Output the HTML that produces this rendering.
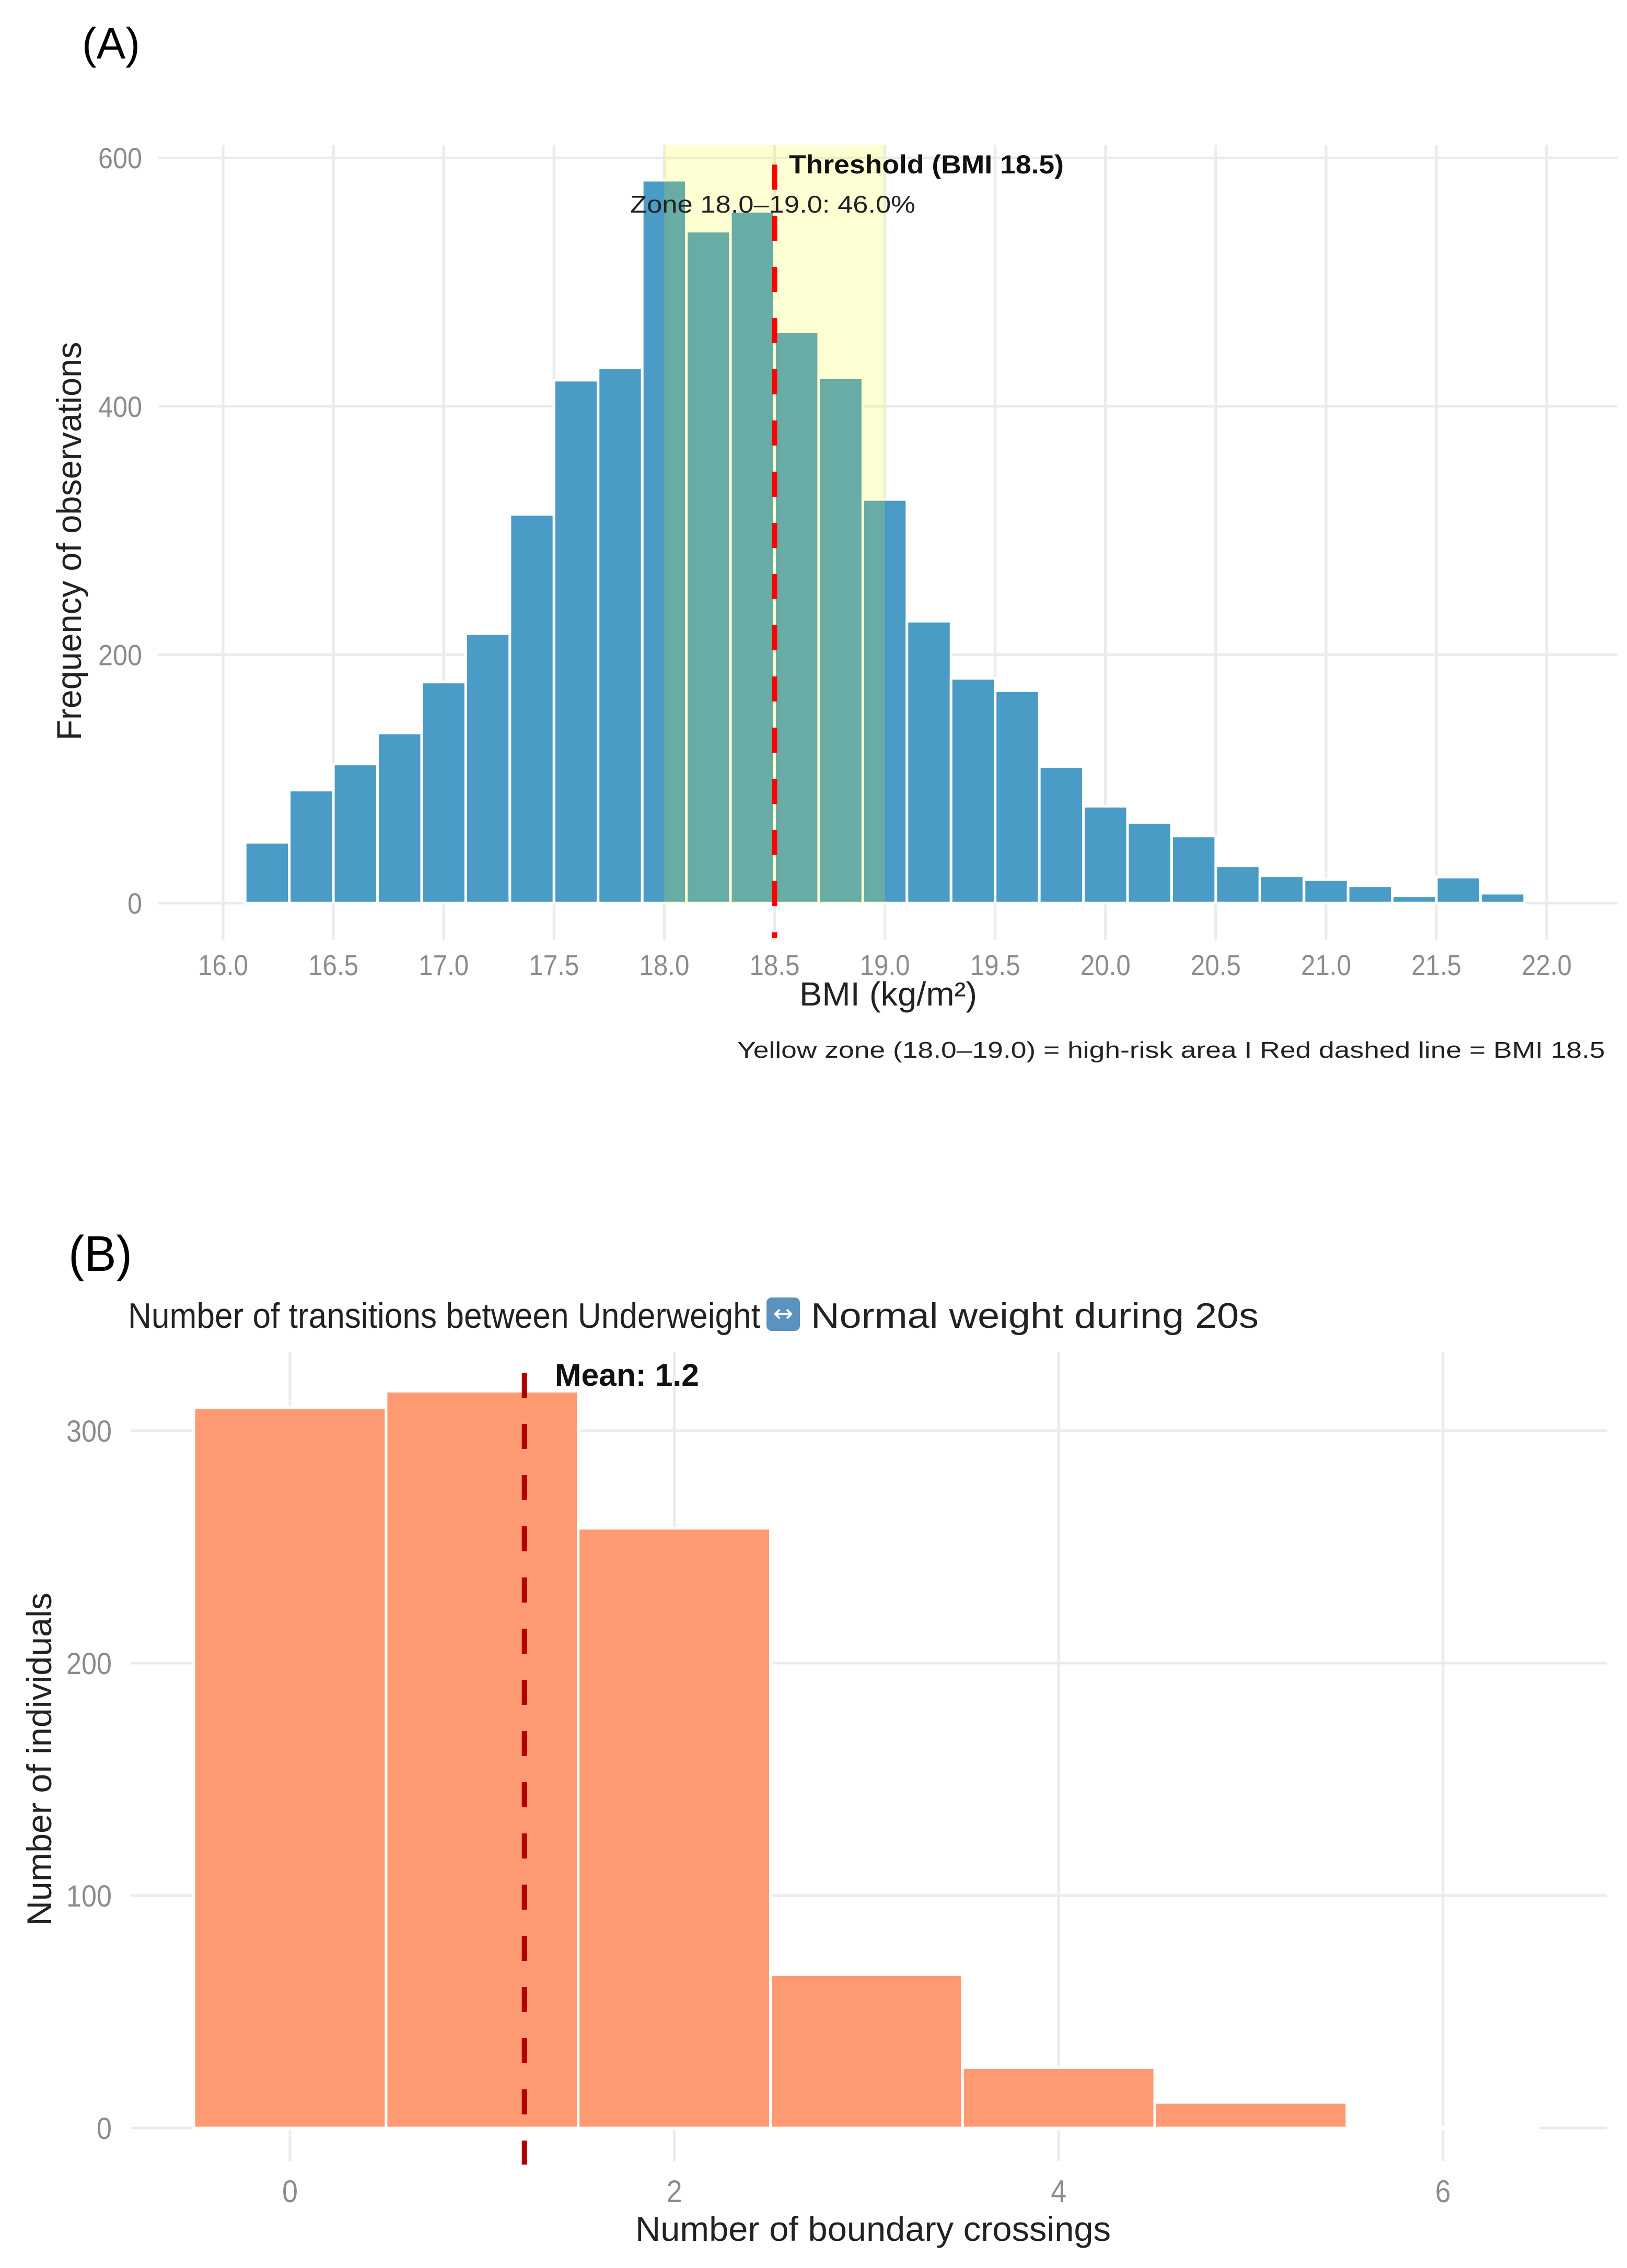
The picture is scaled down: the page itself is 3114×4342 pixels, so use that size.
<!DOCTYPE html>
<html><head><meta charset="utf-8"><style>
html,body{margin:0;padding:0;background:#fff;}
svg{display:block;font-family:"Liberation Sans",Arial,sans-serif;}
</style></head><body>
<svg id="fig" width="3114" height="4342" viewBox="0 0 3114 4342" xmlns="http://www.w3.org/2000/svg">
<rect width="3114" height="4342" fill="#ffffff"/>
<g id="panelA"></g>
<g id="panelB"></g>
</svg>
<script>
// ---- Panel A data ----
const bmiBinStarts = [16.1,16.3,16.5,16.7,16.9,17.1,17.3,17.5,17.7,17.9,18.1,18.3,18.5,18.7,18.9,19.1,19.3,19.5,19.7,19.9,20.1,20.3,20.5,20.7,20.9,21.1,21.3,21.5,21.7];
const bmiCounts = [49,91,112,137,178,217,313,421,431,582,541,557,460,423,325,227,181,171,110,78,65,54,30,22,19,14,6,21,8];
const bmiBinWidth = 0.2;
const bmiXTicks = [16.0,16.5,17.0,17.5,18.0,18.5,19.0,19.5,20.0,20.5,21.0,21.5,22.0];
const bmiYTicks = [0,200,400,600];
const zoneRange = [18.0,19.0];
const thresholdValue = 18.5;
// ---- Panel B data ----
const crossCategories = [0,1,2,3,4,5,6];
const crossCounts = [310,317,258,66,26,11,0];
const crossXTicks = [0,2,4,6];
const crossYTicks = [0,100,200,300];
const crossMean = 1.22;

const NS = "http://www.w3.org/2000/svg";
function mk(parent, tag, attrs, text){
  const e = document.createElementNS(NS, tag);
  for (const k in attrs) e.setAttribute(k, attrs[k]);
  if (text !== undefined) e.textContent = text;
  parent.appendChild(e);
  return e;
}
const gridCol = "#ebebeb", tickCol = "#8c8c8c";

// ===== Panel A =====
(function(){
  const g = document.getElementById('panelA');
  const xA = v => 427 + (v - 16.0) * 422.2;
  const yA = v => 1729 - v * 2.378;
  const left = 303, right = 3096, top = 277, bottom = 1800;
  bmiXTicks.forEach(t => {
    const l = mk(g,'line',{x1:xA(t),x2:xA(t),y1:top,y2:bottom,stroke:gridCol,'stroke-width':5});
    
    
  });
  bmiYTicks.forEach(t => {
    const l = mk(g,'line',{x1:left,x2:right,y1:yA(t),y2:yA(t),stroke:gridCol,'stroke-width':5});
    
    
  });
  bmiBinStarts.forEach((s,i) => {
    const r = mk(g,'rect',{x:xA(s),y:yA(bmiCounts[i]),width:xA(s+bmiBinWidth)-xA(s),height:yA(0)-yA(bmiCounts[i]),fill:'#4b9bc7',stroke:'#ffffff','stroke-width':5});
    
    
  });
  const z = mk(g,'rect',{x:xA(zoneRange[0]),y:top,width:xA(zoneRange[1])-xA(zoneRange[0]),height:yA(0)-top,fill:'#ffff00','fill-opacity':0.17});
  
  
  const th = mk(g,'line',{x1:xA(thresholdValue),x2:xA(thresholdValue),y1:315,y2:bottom-4,stroke:'#ff0000','stroke-width':10,'stroke-dasharray':'48 50'});
  
  
  const tt = mk(g,'text',{x:1510,y:332,'font-size':50,'font-weight':'bold',fill:'#111',textLength:526,lengthAdjust:'spacingAndGlyphs'},'Threshold (BMI 18.5)');
  
  
  const zt = mk(g,'text',{x:1206,y:407,'font-size':46,fill:'#222',textLength:546,lengthAdjust:'spacingAndGlyphs'},'Zone 18.0–19.0: 46.0%');
  
  
  bmiXTicks.forEach(t => {
    const tx = mk(g,'text',{x:xA(t),y:1867,'font-size':56,fill:tickCol,'text-anchor':'middle',textLength:96,lengthAdjust:'spacingAndGlyphs'},t.toFixed(1));
    
    
  });
  bmiYTicks.forEach(t => {
    const s = String(t);
    const tx = mk(g,'text',{x:272,y:yA(t)+20,'font-size':56,fill:tickCol,'text-anchor':'end',textLength:s.length*28,lengthAdjust:'spacingAndGlyphs'},s);
    
    
  });
  const xt = mk(g,'text',{x:1700,y:1925,'font-size':64,fill:'#222','text-anchor':'middle',textLength:340,lengthAdjust:'spacingAndGlyphs'},'BMI (kg/m²)');
  
  
  const yt = mk(g,'text',{x:0,y:0,'font-size':66,fill:'#222','text-anchor':'middle',textLength:763,lengthAdjust:'spacingAndGlyphs',transform:'translate(155,1036) rotate(-90)'},'Frequency of observations');
  
  
  const cap = mk(g,'text',{x:1411,y:2025,'font-size':44,fill:'#222',textLength:1661,lengthAdjust:'spacingAndGlyphs'},'Yellow zone (18.0–19.0) = high-risk area  I  Red dashed line = BMI 18.5');
  
  
  const pl = mk(g,'text',{x:157,y:112,'font-size':84,fill:'#000',textLength:111,lengthAdjust:'spacingAndGlyphs'},'(A)');
  
  
})();

// ===== Panel B =====
(function(){
  const g = document.getElementById('panelB');
  const xB = v => 555 + v * 367.8;
  const yB = v => 4074 - v * 4.45;
  const left = 250, right = 3076, top = 2589, bottom = 4137;
  crossXTicks.forEach(t => {
    const l = mk(g,'line',{x1:xB(t),x2:xB(t),y1:top,y2:bottom,stroke:gridCol,'stroke-width':5});
    
    
  });
  crossYTicks.forEach(t => {
    const l = mk(g,'line',{x1:left,x2:right,y1:yB(t),y2:yB(t),stroke:gridCol,'stroke-width':5});
    
    
  });
  const wb = mk(g,'rect',{x:xB(-0.5),y:yB(0)-4,width:xB(6.5)-xB(-0.5),height:8,fill:'#ffffff'});
  
  
  crossCategories.forEach((c,i) => {
    if (crossCounts[i] <= 0) return;
    const r = mk(g,'rect',{x:xB(c-0.5),y:yB(crossCounts[i]),width:xB(c+0.5)-xB(c-0.5),height:yB(0)-yB(crossCounts[i]),fill:'#fe9a72',stroke:'#ffffff','stroke-width':5});
    
    
  });
  const ml = mk(g,'line',{x1:xB(crossMean),x2:xB(crossMean),y1:2628,y2:4144,stroke:'#b00000','stroke-width':10,'stroke-dasharray':'48 50'});
  
  
  const mt = mk(g,'text',{x:1062,y:2653,'font-size':60,'font-weight':'bold',fill:'#111',textLength:276,lengthAdjust:'spacingAndGlyphs'},'Mean: 1.2');
  
  
  crossXTicks.forEach(t => {
    const tx = mk(g,'text',{x:xB(t),y:4216,'font-size':60,fill:tickCol,'text-anchor':'middle',textLength:30,lengthAdjust:'spacingAndGlyphs'},String(t));
    
    
  });
  crossYTicks.forEach(t => {
    const s = String(t);
    const tx = mk(g,'text',{x:214,y:yB(t)+21,'font-size':58,fill:tickCol,'text-anchor':'end',textLength:s.length*29,lengthAdjust:'spacingAndGlyphs'},s);
    
    
  });
  const xt = mk(g,'text',{x:1671,y:4290,'font-size':66,fill:'#222','text-anchor':'middle',textLength:910,lengthAdjust:'spacingAndGlyphs'},'Number of boundary crossings');
  
  
  const yt = mk(g,'text',{x:0,y:0,'font-size':66,fill:'#222','text-anchor':'middle',textLength:638,lengthAdjust:'spacingAndGlyphs',transform:'translate(98,3368) rotate(-90)'},'Number of individuals');
  
  
  const t1 = mk(g,'text',{x:245,y:2542,'font-size':68,fill:'#222',textLength:1210,lengthAdjust:'spacingAndGlyphs'},'Number of transitions between Underweight');
  
  
  const eb = mk(g,'rect',{x:1467,y:2484,width:64,height:64,rx:10,fill:'#5a93bd'});
  
  
  const et = mk(g,'text',{x:1499,y:2530,'font-size':46,fill:'#ffffff','text-anchor':'middle','font-family':'DejaVu Sans, sans-serif'},'↔');
  
  
  const t2 = mk(g,'text',{x:1552,y:2542,'font-size':68,fill:'#222',textLength:857,lengthAdjust:'spacingAndGlyphs'},'Normal weight during 20s');
  
  
  const pl = mk(g,'text',{x:131,y:2433,'font-size':96,fill:'#000',textLength:122,lengthAdjust:'spacingAndGlyphs'},'(B)');
  
  
})();
</script>
</body></html>
